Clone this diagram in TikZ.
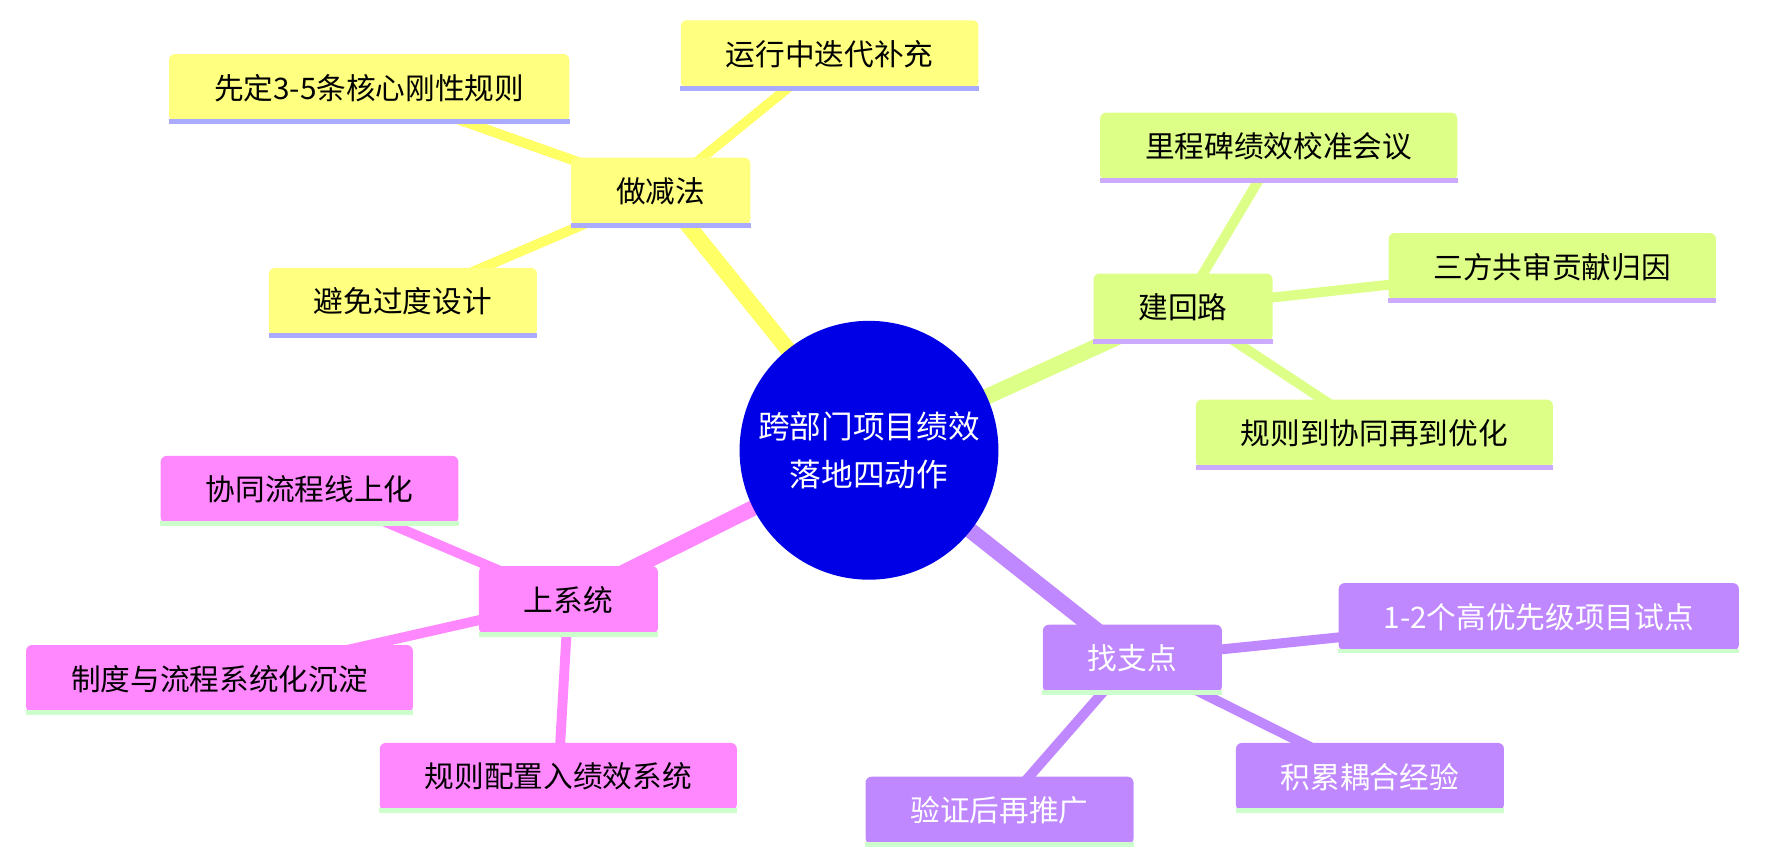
\documentclass[tikz,border=0pt]{standalone}
\usepackage{fontspec}
\setmainfont{Noto Sans CJK SC}
\definecolor{hubblue}{HTML}{0000E6}
\definecolor{yel}{HTML}{FFFF80}
\definecolor{yelline}{HTML}{FFFF66}
\definecolor{grn}{HTML}{DDFF88}
\definecolor{pnk}{HTML}{FF88FF}
\definecolor{prp}{HTML}{C088FF}
\definecolor{lav}{HTML}{AAAAFF}
\definecolor{lilac}{HTML}{CCAAFF}
\definecolor{mint}{HTML}{CCFFCC}
\begin{document}
\begin{tikzpicture}[x=0.02cm,y=-0.02cm]
	\tikzstyle{topic}=[rounded corners=3pt,minimum height=1.2cm,inner xsep=0.8cm,font=\fontsize{15}{17}\selectfont]
	\tikzstyle{yel topic}=[topic,fill=yel]
	\tikzstyle{grn topic}=[topic,fill=grn]
	\tikzstyle{pnk topic}=[topic,fill=pnk]
	\tikzstyle{prp topic}=[topic,fill=prp,text=white]
	\tikzstyle{hub}=[circle,fill=hubblue,text=white,minimum size=4.6cm,align=center,font=\fontsize{16}{24}\selectfont]
	\tikzstyle{main link}=[line width=8pt]
	\tikzstyle{sub link}=[line width=5pt]
	\useasboundingbox (0,0) rectangle (1568,768);
	
	% node positions
	\coordinate (hub) at (772,400);
	\coordinate (jian) at (587,170);
	\coordinate (hui) at (1051,273);
	\coordinate (xi) at (505,533);
	\coordinate (zhi) at (1006,585);
	\coordinate (jian-1) at (328,78);
	\coordinate (jian-2) at (737,48);
	\coordinate (jian-3) at (358,268);
	\coordinate (hui-1) at (1136,130);
	\coordinate (hui-2) at (1379,237);
	\coordinate (hui-3) at (1221,385);
	\coordinate (xi-1) at (275,435);
	\coordinate (xi-2) at (195,603);
	\coordinate (xi-3) at (496,690);
	\coordinate (zhi-1) at (1367,548);
	\coordinate (zhi-2) at (1217,690);
	\coordinate (zhi-3) at (888,720);
	
	% links
	\draw[main link,yelline] (hub) -- (jian);
	\draw[main link,grn] (hub) -- (hui);
	\draw[main link,pnk] (hub) -- (xi);
	\draw[main link,prp] (hub) -- (zhi);
	\foreach \i in {1,2,3}{
		\draw[sub link,yelline] (jian) -- (jian-\i);
		\draw[sub link,grn] (hui) -- (hui-\i);
		\draw[sub link,pnk] (xi) -- (xi-\i);
		\draw[sub link,prp] (zhi) -- (zhi-\i);
	}
	
	% nodes
	\node[hub] (hub-n) at (hub) {跨部门项目绩效\\落地四动作};
	\node[yel topic] (jian-n) at (jian) {做减法};
	\node[grn topic] (hui-n) at (hui) {建回路};
	\node[pnk topic] (xi-n) at (xi) {上系统};
	\node[prp topic] (zhi-n) at (zhi) {找支点};
	\node[yel topic] (jian-1-n) at (jian-1) {先定3-5条核心刚性规则};
	\node[yel topic] (jian-2-n) at (jian-2) {运行中迭代补充};
	\node[yel topic] (jian-3-n) at (jian-3) {避免过度设计};
	\node[grn topic] (hui-1-n) at (hui-1) {里程碑绩效校准会议};
	\node[grn topic] (hui-2-n) at (hui-2) {三方共审贡献归因};
	\node[grn topic] (hui-3-n) at (hui-3) {规则到协同再到优化};
	\node[pnk topic] (xi-1-n) at (xi-1) {协同流程线上化};
	\node[pnk topic] (xi-2-n) at (xi-2) {制度与流程系统化沉淀};
	\node[pnk topic] (xi-3-n) at (xi-3) {规则配置入绩效系统};
	\node[prp topic] (zhi-1-n) at (zhi-1) {1-2个高优先级项目试点};
	\node[prp topic] (zhi-2-n) at (zhi-2) {积累耦合经验};
	\node[prp topic] (zhi-3-n) at (zhi-3) {验证后再推广};
	
	% bottom borders
	\foreach \n in {jian,jian-1,jian-2,jian-3}
	\draw[lav,line width=2.5pt] (\n-n.south west) -- (\n-n.south east);
	\foreach \n in {hui,hui-1,hui-2,hui-3}
	\draw[lilac,line width=2.5pt] (\n-n.south west) -- (\n-n.south east);
	\foreach \n in {xi,xi-1,xi-2,xi-3,zhi,zhi-1,zhi-2,zhi-3}
	\draw[mint,line width=2.5pt] (\n-n.south west) -- (\n-n.south east);
\end{tikzpicture}
\end{document}
